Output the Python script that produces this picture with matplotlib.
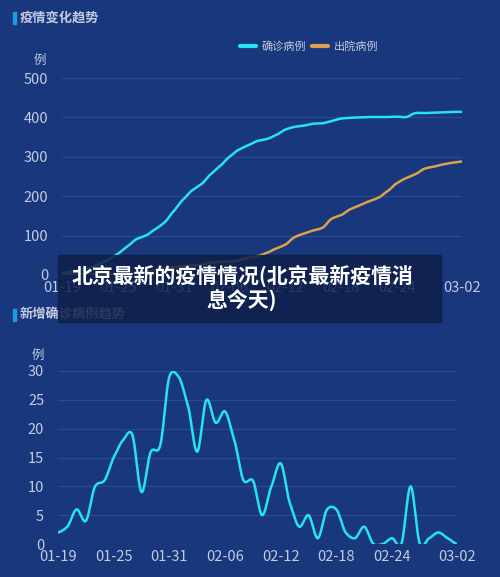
import numpy as np
import matplotlib
matplotlib.use("Agg")
import matplotlib.pyplot as plt
from matplotlib.patches import Rectangle

plt.rcParams['font.family'] = ['Noto Sans CJK SC', 'DejaVu Sans']

dates = ["01-19","01-20","01-21","01-22","01-23","01-24","01-25","01-26","01-27","01-28","01-29","01-30","01-31",
         "02-01","02-02","02-03","02-04","02-05","02-06","02-07","02-08","02-09","02-10","02-11","02-12","02-13","02-14",
         "02-15","02-16","02-17","02-18","02-19","02-20","02-21","02-22","02-23","02-24","02-25","02-26","02-27","02-28",
         "02-29","03-01","03-02"]
confirmed = [5,8,14,18,28,39,54,72,91,100,116,133,162,191,215,231,256,277,300,318,329,340,345,355,369,376,379,384,
             385,391,397,399,400,401,401,401,402,401,411,411,412,413,414,414]
discharged = [0,0,1,1,1,2,4,4,5,9,12,17,20,23,24,27,31,33,34,37,44,48,56,67,77,96,105,113,120,143,152,167,177,187,
              196,213,233,246,256,270,275,281,285,288]
new_cases = [2,3,6,4,10,11,15,18,19,9,16,17,29,29,24,16,25,21,23,18,11,11,5,10,14,7,3,5,1,6,6,2,1,3,0,0,1,0,10,0,1,2,1,0]
ticks_idx = [0,6,12,18,24,30,36,43]

BG = '#18377c'
TXT = '#c3cbe0'
CYAN = '#27e3ee'
ORANGE = '#dba24a'

def smooth(y, n=12):
    y = np.asarray(y, float)
    p = np.concatenate([[y[0]], y, [y[-1]]])
    xs, ys = [], []
    for i in range(len(y) - 1):
        p0, p1, p2, p3 = p[i], p[i+1], p[i+2], p[i+3]
        t = np.linspace(0, 1, n, endpoint=False)
        m1 = (p2 - p0) / 2 * 0.8
        m2 = (p3 - p1) / 2 * 0.8
        h00 = 2*t**3 - 3*t**2 + 1; h10 = t**3 - 2*t**2 + t
        h01 = -2*t**3 + 3*t**2; h11 = t**3 - t**2
        xs.append(i + t); ys.append(h00*p1 + h10*m1 + h01*p2 + h11*m2)
    xs.append([len(y)-1]); ys.append([y[-1]])
    return np.concatenate(xs), np.concatenate(ys)

fig = plt.figure(figsize=(5.0, 5.77), dpi=100, facecolor=BG)
W, H = 500, 577
def ax_at(l, t, r, b):
    return fig.add_axes([l/W, 1-b/H, (r-l)/W, (b-t)/H])

def style(ax, ymax, step):
    ax.set_facecolor(BG)
    for s in ax.spines.values(): s.set_visible(False)
    ax.set_ylim(0, ymax)
    ax.set_yticks(np.arange(0, ymax+1, step))
    ax.set_xlim(0, len(dates)-1)
    ax.set_xticks(ticks_idx)
    ax.set_xticklabels([dates[i] for i in ticks_idx])
    ax.tick_params(colors=TXT, labelsize=10.5, length=0, pad=4)
    ax.tick_params(axis='y', pad=10)
    ax.grid(axis='y', color='#2c4a92', lw=0.8)
    ax.set_axisbelow(True)

ax1 = ax_at(62, 78, 462, 275)
style(ax1, 500, 100)
x, y = smooth(confirmed); ax1.plot(x, y, color=CYAN, lw=1.8)
x, y = smooth(discharged); ax1.plot(x, y, color=ORANGE, lw=1.8)
ax1.text(-0.055, 1.07, '例', transform=ax1.transAxes, color=TXT, fontsize=9, ha='center')
ax1.plot([0.445, 0.485], [1.16, 1.16], transform=ax1.transAxes, color=CYAN, lw=3, clip_on=False, solid_capstyle='round')
ax1.text(0.5, 1.16, '确诊病例', transform=ax1.transAxes, color=TXT, fontsize=8, va='center')
ax1.plot([0.625, 0.665], [1.16, 1.16], transform=ax1.transAxes, color=ORANGE, lw=3, clip_on=False, solid_capstyle='round')
ax1.text(0.68, 1.16, '出院病例', transform=ax1.transAxes, color=TXT, fontsize=8, va='center')

ax2 = ax_at(58, 371, 457, 544)
style(ax2, 30, 5)
x, y = smooth(new_cases); ax2.plot(x, y, color=CYAN, lw=1.8)
ax2.text(-0.05, 1.07, '例', transform=ax2.transAxes, color=TXT, fontsize=9, ha='center')

for yy, title in [(18, '疫情变化趋势'), (315, '新增确诊病例趋势')]:
    fig.patches.append(Rectangle((13/W, 1-(yy+6)/H), 2.5/W, 12/H, transform=fig.transFigure, color='#1e9be0'))
    fig.text(20/W, 1-yy/H, title, color=TXT, fontsize=9.5, va='center', fontweight='bold')

fig.patches.append(Rectangle((58/W, 1-322/H), 383/W, 67/H, transform=fig.transFigure,
                             color='#0f1f48', alpha=0.85, zorder=10))
fig.text(242/W, 1-288/H, '北京最新的疫情情况(北京最新疫情消\n息今天)', color='white', fontsize=15,
         fontweight='bold', ha='center', va='center', linespacing=1.15, zorder=11)

fig.savefig('out.png', dpi=100, facecolor=BG)
